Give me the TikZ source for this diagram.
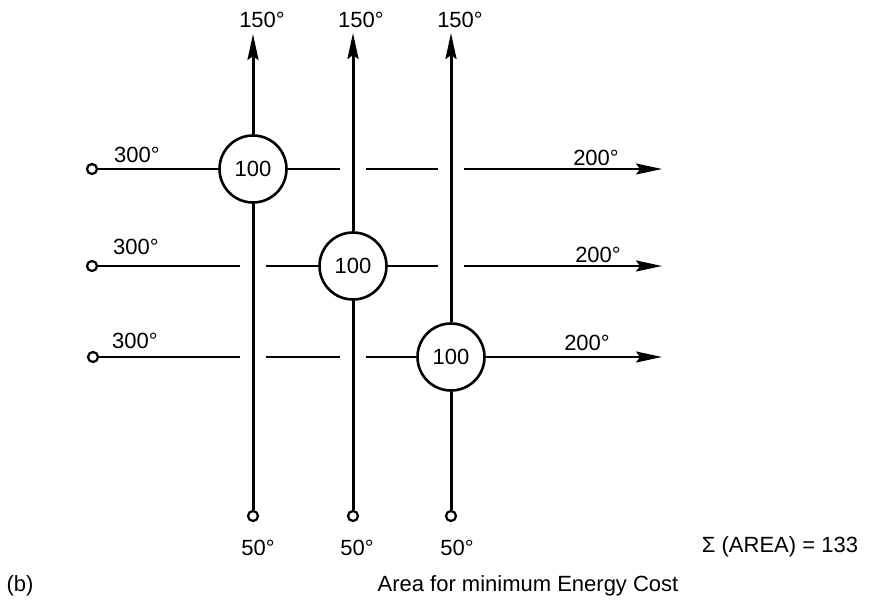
\documentclass[tikz,border=0pt]{standalone}
\usepackage{fontspec}
\setmainfont{Liberation Sans}
\usepackage{tikz}
\usetikzlibrary{arrows.meta, positioning}

\begin{document}
\begin{tikzpicture}[
    x=0.5pt, y=-0.5pt,
    hx/.style={circle, draw, line width=1.3pt, minimum size=33.5pt, inner sep=0pt, fill=white, font=\fontsize{11}{13}\selectfont},
    port/.style={circle, draw, line width=1.1pt, minimum size=5pt, inner sep=0pt, fill=white},
    lbl/.style={font=\fontsize{11}{13}\selectfont, inner sep=0pt},
    hline/.style={line width=1pt},
    vline/.style={line width=1.5pt},
    gap/.style={preaction={draw=white, line width=13pt, arrows=-}},
    arrow/.style={-{Stealth[length=13pt, width=5.5pt, inset=2pt]}}
]
    \useasboundingbox (0,0) rectangle (874,600);

    % Exchangers
    \node[hx] (hx1) at (253,169) {100};
    \node[hx] (hx2) at (353,266) {100};
    \node[hx] (hx3) at (451,357) {100};

    % Hot streams
    \node[port] (in1) at (92,169) {};
    \node[port] (in2) at (92,266) {};
    \node[port] (in3) at (93,357) {};
    \coordinate (out1) at (662,169);
    \coordinate (out2) at (662,266);
    \coordinate (out3) at (662,357);

    % Cold streams
    \node[port] (bot1) at (253,516) {};
    \node[port] (bot2) at (353,516) {};
    \node[port] (bot3) at (451,516) {};
    \coordinate (top1) at (253,34);
    \coordinate (top2) at (353,33);
    \coordinate (top3) at (451,33);

    % Hot stream lines
    \draw[hline] (in1) -- (hx1);
    \draw[hline, arrow] (hx1) -- (out1);
    \draw[hline] (in2) -- (hx2);
    \draw[hline, arrow] (hx2) -- (out2);
    \draw[hline] (in3) -- (hx3);
    \draw[hline, arrow] (hx3) -- (out3);

    % Cold stream lines (break the hot lines where they cross)
    \draw[vline, gap] (bot1) -- (hx1);
    \draw[vline, arrow] (hx1) -- (top1);
    \draw[vline, gap] (bot2) -- (hx2);
    \draw[vline, gap, arrow] (hx2) -- (top2);
    \draw[vline] (bot3) -- (hx3);
    \draw[vline, gap, arrow] (hx3) -- (top3);

    % Temperatures
    \node[lbl] (t1) at (262,20) {150°};
    \node[lbl] (t2) at (361,20) {150°};
    \node[lbl] (t3) at (460,20) {150°};
    \node[lbl] (b1) at (258,548) {50°};
    \node[lbl] (b2) at (357,548) {50°};
    \node[lbl] (b3) at (457,548) {50°};
    \node[lbl] (l1) at (137,155) {300°};
    \node[lbl] (l2) at (136,247) {300°};
    \node[lbl] (l3) at (135,341) {300°};
    \node[lbl] (r1) at (596,158) {200°};
    \node[lbl] (r2) at (598,255) {200°};
    \node[lbl] (r3) at (587,343) {200°};

    % Caption
    \node[lbl] (area) at (780,547) {Σ (AREA) = 133};
    \node[lbl] (tag) at (20,586) {(b)};
    \node[lbl] (caption) at (528,586) {Area for minimum Energy Cost};
\end{tikzpicture}
\end{document}
